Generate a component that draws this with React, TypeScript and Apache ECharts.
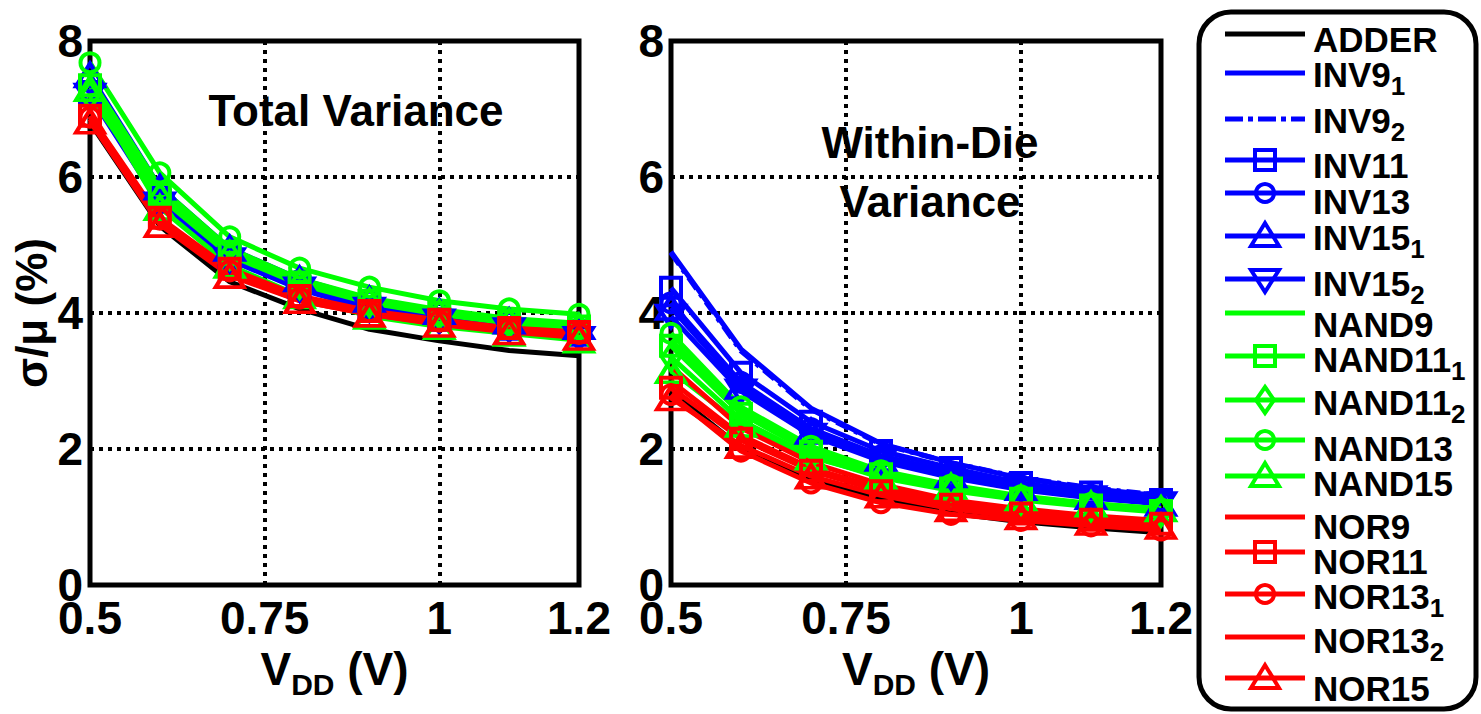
import React, { useEffect, useRef } from 'react';
import * as echarts from 'echarts';

const FONT = "'Liberation Sans', Arial, Helvetica, sans-serif";

// Supply voltage sample points (V)
const VDD = [0.5, 0.6, 0.7, 0.8, 0.9, 1.0, 1.1, 1.2];
const X_INTERVAL = 0.25;
const Y_TICKS = [0, 2, 4, 6, 8];

// Series identity
const NAMES = ['ADDER', 'INV9_1', 'INV9_2', 'INV11', 'INV13', 'INV15_1', 'INV15_2', 'NAND9', 'NAND11_1', 'NAND11_2', 'NAND13', 'NAND15', 'NOR9', 'NOR11', 'NOR13_1', 'NOR13_2', 'NOR15'];
const LABEL_MAIN = ['ADDER', 'INV9', 'INV9', 'INV11', 'INV13', 'INV15', 'INV15', 'NAND9', 'NAND11', 'NAND11', 'NAND13', 'NAND15', 'NOR9', 'NOR11', 'NOR13', 'NOR13', 'NOR15'];
const LABEL_SUB = ['', '1', '2', '', '', '1', '2', '', '1', '2', '', '', '', '', '1', '2', ''];
const BLACK = '#000000', BLUE = '#0000ff', GREEN = '#00ff00', RED = '#ff0000';
const COLORS = [BLACK, BLUE, BLUE, BLUE, BLUE, BLUE, BLUE, GREEN, GREEN, GREEN, GREEN, GREEN, RED, RED, RED, RED, RED];
const MARKERS = ['none', 'none', 'none', 'rect', 'circle', 'triangle', 'down', 'none', 'rect', 'diamond', 'circle', 'triangle', 'none', 'rect', 'circle', 'none', 'triangle'];
const DASHED = [false, false, true, false, false, false, false, false, false, false, false, false, false, false, false, false, false];

// Total variance sigma/mu (%)
const TOTAL_ADDER = [6.80, 5.28, 4.46, 4.06, 3.76, 3.59, 3.45, 3.37];
const TOTAL_INV9_1 = [7.30, 5.70, 4.85, 4.40, 4.10, 3.92, 3.80, 3.70];
const TOTAL_INV9_2 = [7.35, 5.75, 4.90, 4.45, 4.15, 3.97, 3.84, 3.75];
const TOTAL_INV11 = [7.25, 5.65, 4.82, 4.38, 4.08, 3.90, 3.77, 3.68];
const TOTAL_INV13 = [7.40, 5.80, 4.92, 4.48, 4.17, 4.00, 3.86, 3.77];
const TOTAL_INV15_1 = [7.50, 5.85, 4.95, 4.50, 4.20, 4.02, 3.88, 3.80];
const TOTAL_INV15_2 = [7.20, 5.60, 4.78, 4.35, 4.05, 3.88, 3.75, 3.62];
const TOTAL_NAND9 = [7.45, 5.85, 4.95, 4.50, 4.22, 4.05, 3.92, 3.85];
const TOTAL_NAND11_1 = [7.35, 5.75, 4.90, 4.45, 4.18, 4.00, 3.88, 3.80];
const TOTAL_NAND11_2 = [7.20, 5.70, 4.85, 4.42, 4.15, 3.98, 3.85, 3.78];
const TOTAL_NAND13 = [7.68, 6.06, 5.12, 4.66, 4.38, 4.18, 4.06, 3.98];
const TOTAL_NAND15 = [7.30, 5.55, 4.70, 4.25, 3.95, 3.80, 3.70, 3.60];
const TOTAL_NOR9 = [6.85, 5.35, 4.60, 4.20, 4.00, 3.86, 3.75, 3.68];
const TOTAL_NOR11 = [6.90, 5.40, 4.65, 4.25, 4.03, 3.90, 3.78, 3.72];
const TOTAL_NOR13_1 = [6.88, 5.38, 4.62, 4.22, 4.02, 3.88, 3.77, 3.70];
const TOTAL_NOR13_2 = [6.85, 5.33, 4.58, 4.18, 3.98, 3.84, 3.73, 3.66];
const TOTAL_NOR15 = [6.82, 5.30, 4.55, 4.18, 3.98, 3.83, 3.72, 3.64];

// Within-die variance sigma/mu (%)
const WID_ADDER = [2.85, 2.02, 1.56, 1.27, 1.06, 0.93, 0.84, 0.77];
const WID_INV9_1 = [4.90, 3.47, 2.60, 2.08, 1.80, 1.57, 1.42, 1.31];
const WID_INV9_2 = [4.88, 3.44, 2.58, 2.07, 1.80, 1.58, 1.43, 1.32];
const WID_INV11 = [4.37, 3.12, 2.40, 1.97, 1.72, 1.50, 1.36, 1.25];
const WID_INV13 = [4.15, 2.98, 2.30, 1.90, 1.66, 1.46, 1.32, 1.22];
const WID_INV15_1 = [4.08, 2.92, 2.26, 1.86, 1.62, 1.43, 1.30, 1.20];
const WID_INV15_2 = [3.95, 2.85, 2.20, 1.82, 1.58, 1.40, 1.28, 1.19];
const WID_NAND9 = [3.60, 2.58, 2.00, 1.66, 1.44, 1.29, 1.19, 1.11];
const WID_NAND11_1 = [3.52, 2.52, 1.96, 1.63, 1.42, 1.27, 1.17, 1.09];
const WID_NAND11_2 = [3.35, 2.42, 1.90, 1.58, 1.39, 1.25, 1.15, 1.07];
const WID_NAND13 = [3.70, 2.62, 2.04, 1.68, 1.47, 1.31, 1.20, 1.12];
const WID_NAND15 = [3.15, 2.36, 1.88, 1.60, 1.45, 1.28, 1.19, 1.12];
const WID_NOR9 = [3.22, 2.31, 1.80, 1.48, 1.25, 1.12, 1.02, 0.95];
const WID_NOR11 = [2.90, 2.15, 1.68, 1.38, 1.18, 1.05, 0.96, 0.90];
const WID_NOR13_1 = [2.80, 1.97, 1.50, 1.21, 1.04, 0.95, 0.87, 0.81];
const WID_NOR13_2 = [3.00, 2.20, 1.72, 1.42, 1.20, 1.08, 0.99, 0.92];
const WID_NOR15 = [2.75, 2.05, 1.60, 1.32, 1.12, 1.00, 0.92, 0.86];

const TOTAL = [TOTAL_ADDER, TOTAL_INV9_1, TOTAL_INV9_2, TOTAL_INV11, TOTAL_INV13, TOTAL_INV15_1, TOTAL_INV15_2, TOTAL_NAND9, TOTAL_NAND11_1, TOTAL_NAND11_2, TOTAL_NAND13, TOTAL_NAND15, TOTAL_NOR9, TOTAL_NOR11, TOTAL_NOR13_1, TOTAL_NOR13_2, TOTAL_NOR15];
const WITHIN_DIE = [WID_ADDER, WID_INV9_1, WID_INV9_2, WID_INV11, WID_INV13, WID_INV15_1, WID_INV15_2, WID_NAND9, WID_NAND11_1, WID_NAND11_2, WID_NAND13, WID_NAND15, WID_NOR9, WID_NOR11, WID_NOR13_1, WID_NOR13_2, WID_NOR15];

// Legend row positions (line y, text center y)
const LEG_LINE_Y = [34, 73, 119, 160, 193, 236, 279, 313, 356, 400, 440, 476, 517, 552, 594, 637, 678];
const LEG_TEXT_Y = [42, 77, 123, 168, 204, 240, 286, 327, 362, 405, 451, 486, 529, 564, 599, 643, 691];

function symbolFor(m: string) {
  if (m === 'none') return { symbol: 'none', size: 0, rotate: 0 };
  if (m === 'rect') return { symbol: 'rect', size: [20, 20], rotate: 0 };
  if (m === 'circle') return { symbol: 'circle', size: [19, 19], rotate: 0 };
  if (m === 'triangle') return { symbol: 'triangle', size: [28, 23], rotate: 0 };
  if (m === 'down') return { symbol: 'triangle', size: [28, 22], rotate: 180 };
  return { symbol: 'diamond', size: [18, 27], rotate: 0 };
}

function legendMarker(m: string, cx: number, cy: number, color: string) {
  const style = { stroke: color, fill: 'rgba(0,0,0,0)', lineWidth: 4 };
  if (m === 'rect') return { type: 'rect', shape: { x: cx - 10, y: cy - 10, width: 20, height: 20 }, style };
  if (m === 'circle') return { type: 'circle', shape: { cx, cy, r: 9 }, style };
  if (m === 'triangle') return { type: 'polygon', shape: { points: [[cx - 14, cy + 10], [cx + 14, cy + 10], [cx, cy - 13]] }, style };
  if (m === 'down') return { type: 'polygon', shape: { points: [[cx - 14, cy - 9], [cx + 14, cy - 9], [cx, cy + 13]] }, style };
  if (m === 'diamond') return { type: 'polygon', shape: { points: [[cx, cy - 13], [cx + 9, cy], [cx, cy + 13], [cx - 9, cy]] }, style };
  return null;
}

export default function App() {
  const ref = useRef<HTMLDivElement>(null);
  useEffect(() => {
    document.body.style.margin = '0';
    const chart = echarts.init(ref.current!, null, { renderer: 'svg' });

    const axisLabel = { color: '#000', fontSize: 46, fontWeight: 'bold', fontFamily: FONT };
    const splitLine = { show: true, lineStyle: { color: '#000', width: 4, type: [4, 5] } };
    const xName = '{v|V}{d|DD}{v| (V)}';
    const xNameStyle = {
      color: '#000',
      rich: {
        v: { fontSize: 46, fontWeight: 'bold', fontFamily: FONT, color: '#000', lineHeight: 50, verticalAlign: 'top' },
        d: { fontSize: 30, fontWeight: 'bold', fontFamily: FONT, color: '#000', padding: [24, 0, 0, 0], verticalAlign: 'top' },
      },
    };

    const xAxes = [0, 1].map((g) => ({
      type: 'value', gridIndex: g, min: VDD[0], max: VDD[VDD.length - 1], interval: X_INTERVAL,
      axisLine: { show: false }, axisTick: { show: false }, splitLine,
      axisLabel: { ...axisLabel, margin: 10, showMinLabel: true, showMaxLabel: true },
      name: xName, nameLocation: 'middle', nameGap: 50, nameTextStyle: xNameStyle,
    }));
    const yAxes = [0, 1].map((g) => ({
      type: 'value', gridIndex: g, min: Y_TICKS[0], max: Y_TICKS[Y_TICKS.length - 1], interval: Y_TICKS[1] - Y_TICKS[0],
      axisLine: { show: false }, axisTick: { show: false }, splitLine,
      axisLabel: { ...axisLabel, margin: 7, showMinLabel: true, showMaxLabel: true },
      ...(g === 0 ? {
        name: 'σ/μ (%)', nameLocation: 'middle', nameGap: 30,
        nameTextStyle: { color: '#000', fontSize: 44, fontWeight: 'bold', fontFamily: FONT },
      } : {}),
    }));

    const series: any[] = [];
    [TOTAL, WITHIN_DIE].forEach((set, g) => {
      set.forEach((vals, i) => {
        const s = symbolFor(MARKERS[i]);
        series.push({
          type: 'line', name: NAMES[i], xAxisIndex: g, yAxisIndex: g,
          data: VDD.map((x, k) => [x, vals[k]]),
          symbol: s.symbol, symbolSize: s.size, symbolRotate: s.rotate, showSymbol: s.symbol !== 'none',
          lineStyle: { color: COLORS[i], width: 5, type: DASHED[i] ? [14, 6, 4, 6] : 'solid' },
          itemStyle: { color: 'rgba(0,0,0,0)', borderColor: COLORS[i], borderWidth: 4 },
          emphasis: { disabled: true }, silent: true,
        });
      });
    });

    const legendChildren: any[] = [
      { type: 'rect', shape: { x: 1199, y: 12, width: 277, height: 697, r: 32 }, style: { fill: '#fff', stroke: '#000', lineWidth: 5 } },
    ];
    NAMES.forEach((_, i) => {
      const ly = LEG_LINE_Y[i];
      legendChildren.push({
        type: 'line', shape: { x1: 1225, y1: ly, x2: 1305, y2: ly },
        style: { stroke: COLORS[i], lineWidth: 5, lineDash: DASHED[i] ? [18, 5, 5, 5] : null },
      });
      const mk = legendMarker(MARKERS[i], 1265, ly, COLORS[i]);
      if (mk) legendChildren.push(mk);
      const sub = LABEL_SUB[i];
      legendChildren.push({
        type: 'text',
        style: {
          x: 1313, y: LEG_TEXT_Y[i] - 20, verticalAlign: 'top', align: 'left',
          text: sub ? `{n|${LABEL_MAIN[i]}}{s|${sub}}` : `{n|${LABEL_MAIN[i]}}`,
          rich: {
            n: { fontSize: 35, fontWeight: 'bold', fontFamily: FONT, fill: '#000', lineHeight: 40, verticalAlign: 'top' },
            s: { fontSize: 26, fontWeight: 'bold', fontFamily: FONT, fill: '#000', padding: [16, 0, 0, 0], verticalAlign: 'top' },
          },
        },
      });
    });

    const titleStyle = { fontSize: 44, fontWeight: 'bold', fontFamily: FONT, fill: '#000', align: 'center', verticalAlign: 'middle' };
    const graphic = [
      { type: 'text', z: 10, style: { ...titleStyle, x: 356, y: 110, text: 'Total Variance' } },
      { type: 'text', z: 10, style: { ...titleStyle, x: 930, y: 142, text: 'Within-Die' } },
      { type: 'text', z: 10, style: { ...titleStyle, x: 930, y: 201, text: 'Variance' } },
      { type: 'group', children: legendChildren },
    ];

    chart.setOption({
      animation: false,
      backgroundColor: '#fff',
      grid: [
        { left: 90, top: 41, width: 489, height: 544, show: true, borderColor: '#000', borderWidth: 5, backgroundColor: '#fff' },
        { left: 671, top: 41, width: 490, height: 544, show: true, borderColor: '#000', borderWidth: 5, backgroundColor: '#fff' },
      ],
      xAxis: xAxes,
      yAxis: yAxes,
      series,
      graphic,
    });
    return () => chart.dispose();
  }, []);
  return <div ref={ref} style={{ position: 'absolute', left: 0, top: 0, width: 1481, height: 714, background: '#fff' }} />;
}
